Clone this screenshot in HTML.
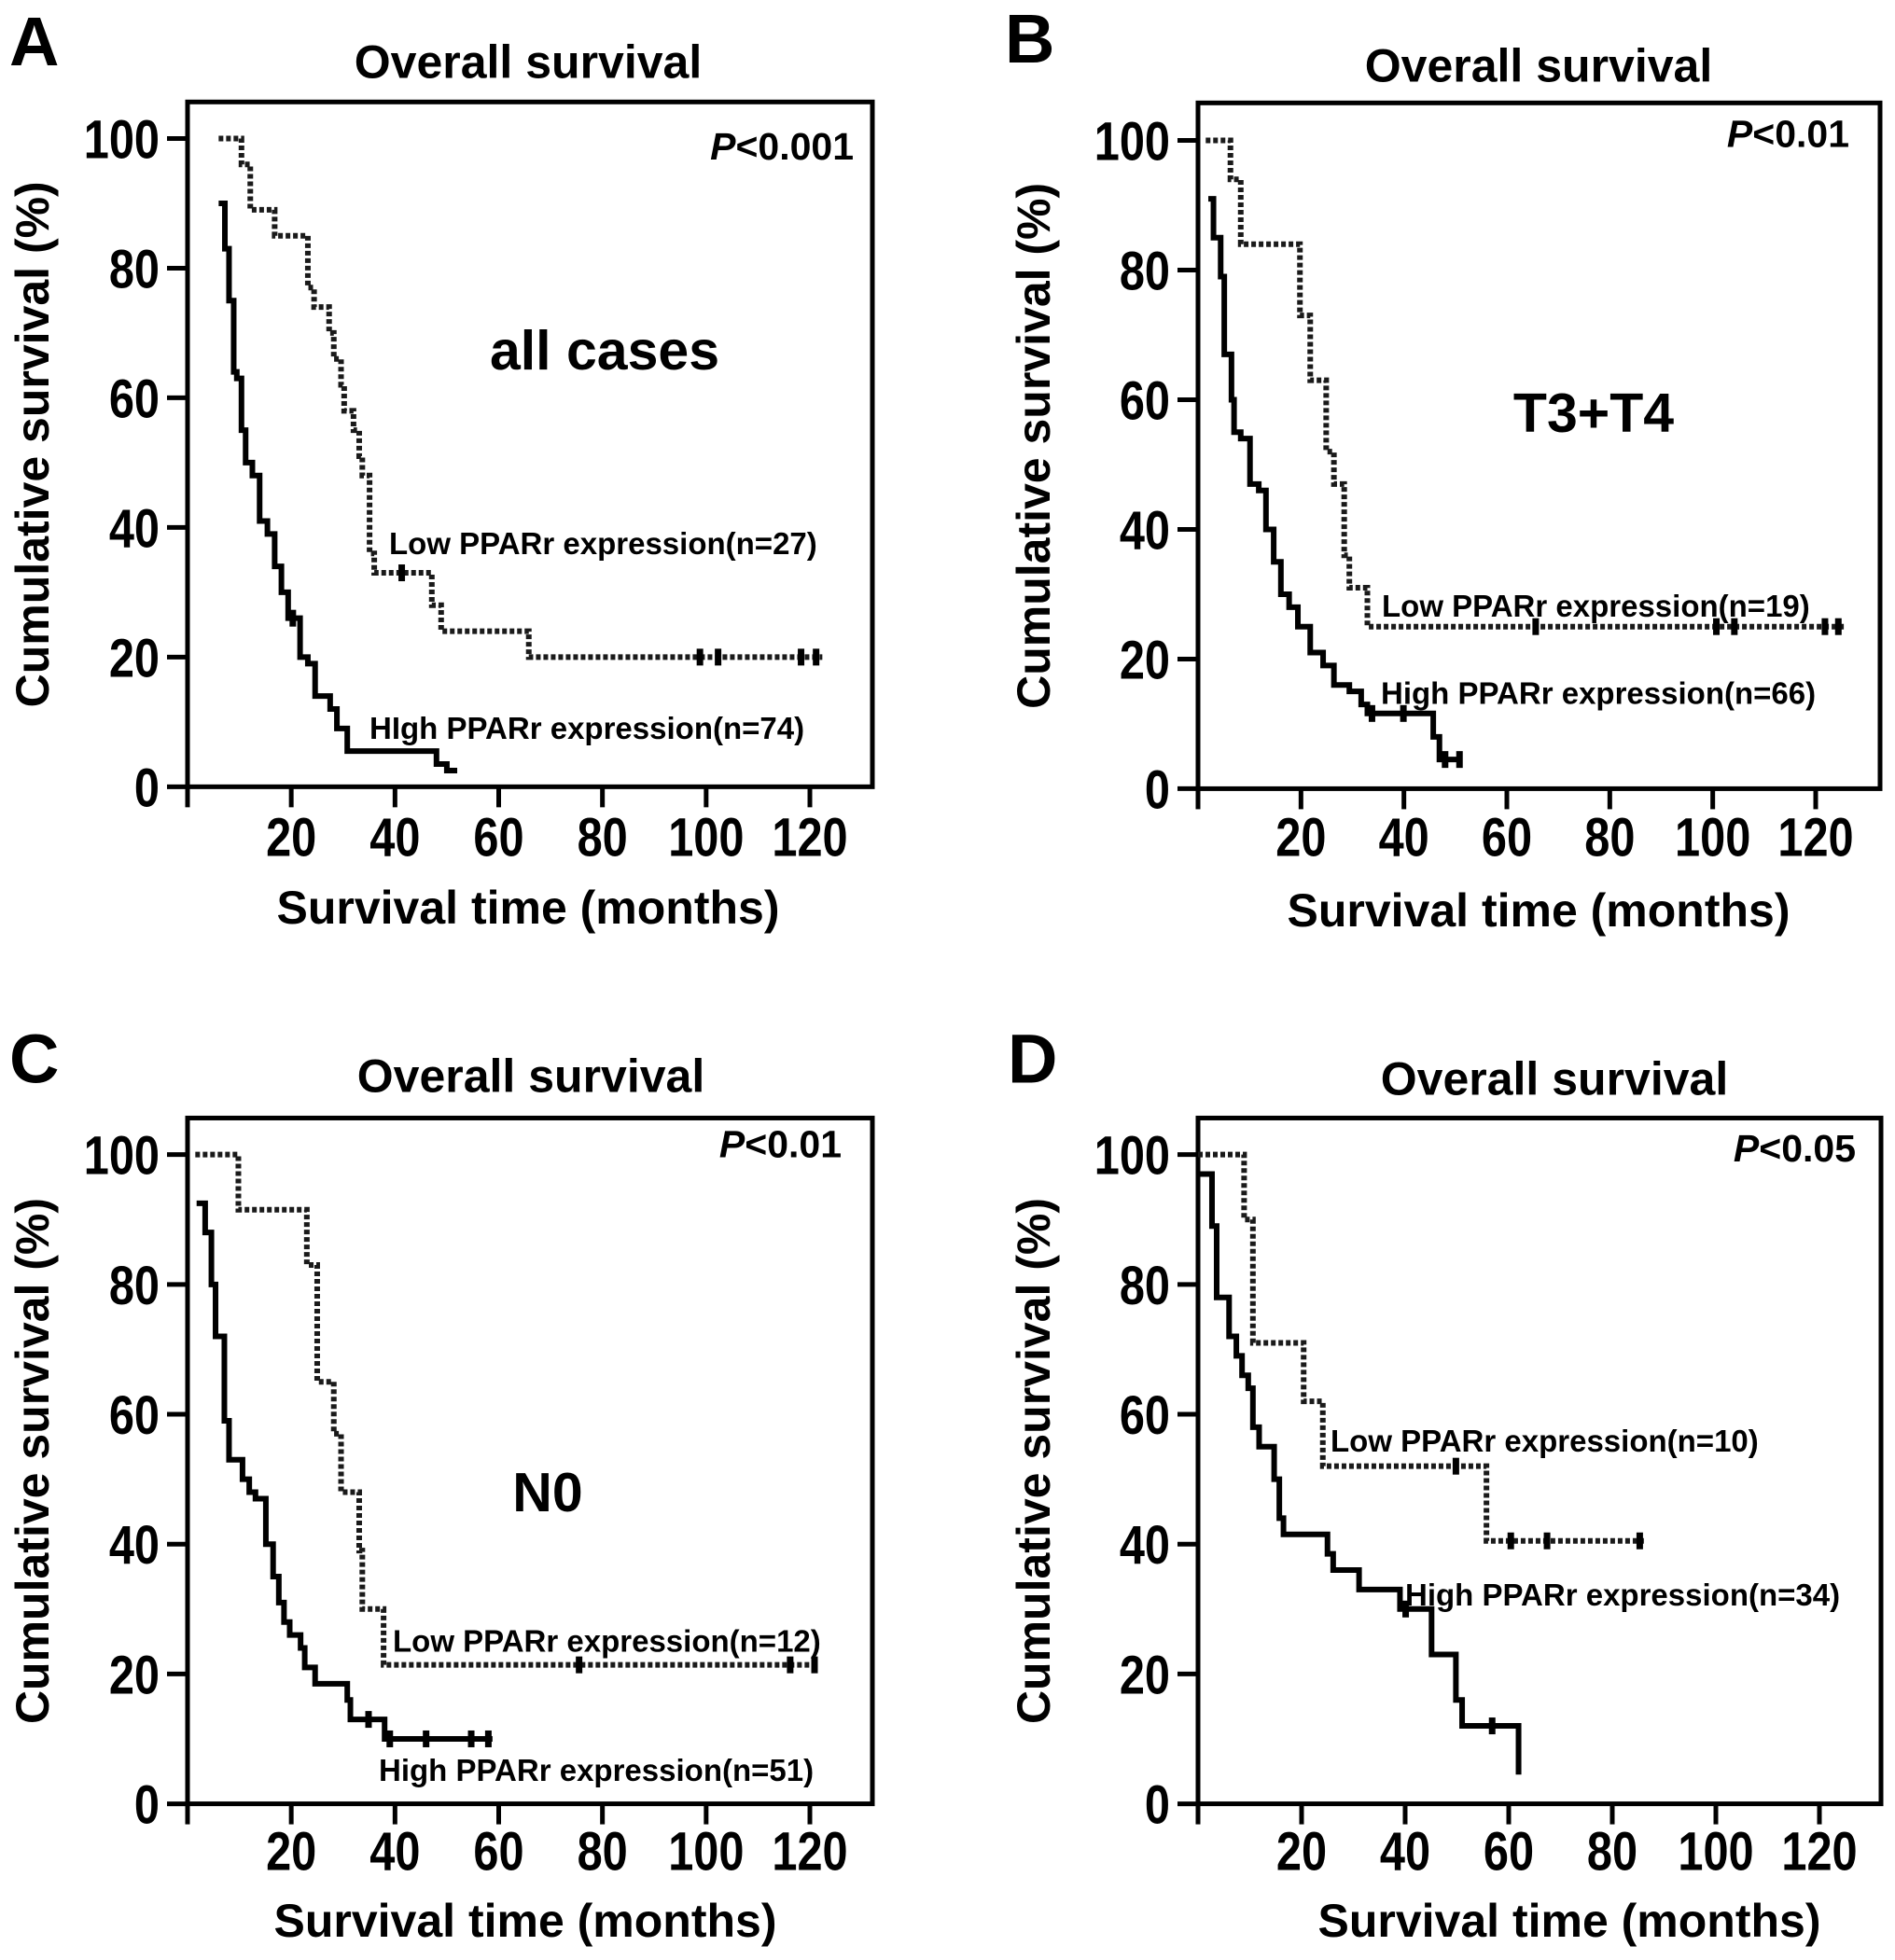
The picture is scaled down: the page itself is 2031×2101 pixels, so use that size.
<!DOCTYPE html>
<html><head><meta charset="utf-8">
<style>
html,body{margin:0;padding:0;background:#fff;}
svg{display:block;font-family:"Liberation Sans",Arial,sans-serif;font-weight:bold;}
</style></head>
<body>
<svg id="fig" width="2031" height="2101" viewBox="0 0 2031 2101" xmlns="http://www.w3.org/2000/svg"></svg>
<script>
// ---- Data (months, % survival) ----
const xTicks = [0,20,40,60,80,100,120];
const xTickLabels = ["","20","40","60","80","100","120"];
const yTicks = [0,20,40,60,80,100];
const yTickLabels = ["0","20","40","60","80","100"];

// Panel A
const aLowT = [6,10.4,12.1,16.8,23.2,24.4,27.3,28.2,29.6,30.2,32,33.1,33.7,35.1,36,47.1,48.9,65.8];
const aLowS = [100,96,89,85,77,74,70,66,62,58,55,51,48,36,33,28,24,20];
const aLowEnd = 122.4;
const aLowCens = [41.3,98.8,102.3,118.3,121.2];
const aHighT = [6,7.2,8,8.9,9.5,10.4,11.2,12.5,13.9,15.4,16.8,18.1,19.4,21.7,23.2,24.6,27.5,28.8,30.8,48,50];
const aHighS = [90,83,75,64,63,55,50,48,41,39,34,30,26,20,19,14,12,9,5.5,3.5,2.5];
const aHighEnd = 52;
const aHighCens = [20.3];

// Panel B
const bLowT = [1.5,6.3,8.3,19.8,21.8,24.9,26.4,28.4,29.4,32.9];
const bLowS = [100,94,84,73,63,52,47,36,31,25];
const bLowEnd = 125.8;
const bLowCens = [65.6,100.7,104.2,121.8,124.4];
const bHighT = [2,3,4.4,5.1,6.5,7,8.3,10.1,11.8,13.2,14.7,16.1,17.7,19.4,21.8,24.3,26.4,29.4,31.7,32.9,45.7,46.9];
const bHighS = [91,85,79,67,60,55,54,47,46,40,35,30,28,25,21,19,16,15,13,11.6,8,4.5];
const bHighEnd = 51;
const bHighCens = [33.8,39.9,48,50.8];

// Panel C
const cLowT = [1.5,9.8,23,25,28.2,29.6,33.1,33.7,37.8];
const cLowS = [100,91.5,83,65,57,48,39,30,21.4];
const cLowEnd = 121.2;
const cLowCens = [75.5,116.2,120.9];
const cHighT = [1.75,3.4,4.6,5.4,7.1,8,10.6,11.9,13.1,15.1,16.5,17.6,18.6,19.7,21.8,22.6,24.6,30.8,31.4,38];
const cHighS = [92.5,88,80,72,59,53,50,48,47,40,35,31,28,26,24,21,18.5,16,13,10];
const cHighEnd = 58.8;
const cHighCens = [34.9,39,46,54.7,58];

// Panel D
const dLowT = [0,8.9,10.6,20.4,24.1,55.7];
const dLowS = [100,90,71,62,52,40.5];
const dLowEnd = 86.1;
const dLowCens = [49.8,60.4,67.4,85.3];
const dHighT = [0,2.7,3.6,6,7.4,8.5,9.7,10.6,11.8,14.7,15.7,16.5,25,26.1,31.1,39,45.1,49.8,51,61.9];
const dHighS = [97,89,78,72,69,66,64,58,55,50,44,41.5,38.5,36,33,30,23,16,12,4.5];
const dHighEnd = 61.9;
const dHighCens = [40.1,56.8];

const NS = "http://www.w3.org/2000/svg";
const svg = document.getElementById('fig');
function mk(tag, attrs, parent){
  const e = document.createElementNS(NS, tag);
  for (const k in attrs) e.setAttribute(k, attrs[k]);
  (parent||svg).appendChild(e);
  return e;
}
function txt(s, attrs, parent){ const e = mk('text', attrs, parent); e.textContent = s; return e; }

function stepPath(T, S, end, xf, yf){
  let d = 'M' + xf(T[0]) + ' ' + yf(S[0]);
  for (let i = 1; i < T.length; i++){
    d += ' H' + xf(T[i]) + ' V' + yf(S[i]);
  }
  d += ' H' + xf(end);
  return d;
}
function survAt(T, S, t){
  let s = S[0];
  for (let i = 0; i < T.length; i++) if (T[i] <= t) s = S[i];
  return s;
}
const DIGIT_W = 58 * 0.556 * 0.84;

function panel(p){
  const Y = v => p.off + (v - p.off) * 1.031;
  ['top','bottom','y100','tickY','xtY','letterY','titleY','pY','grpY','lowLY','highLY'].forEach(k => p[k] = Y(p[k]));
  const g = mk('g', {});
  
  
  const xf = t => p.left + t * (p.x120 - p.left) / 120;
  const yf = v => p.bottom - v * (p.bottom - p.y100) / 100;

  let e = txt(p.letter, {x:p.letterX, y:p.letterY, 'font-size':74}, g);
   
  e = txt('Overall survival', {x:p.titleX, y:p.titleY, 'font-size':50, 'text-anchor':'middle'}, g);
   

  e = mk('rect', {x:p.left, y:p.top, width:p.right-p.left, height:p.bottom-p.top, fill:'none', stroke:'#000', 'stroke-width':5}, g);
   

  yTicks.forEach((v, i) => {
    const t = mk('line', {x1:p.left-22, x2:p.left, y1:yf(v), y2:yf(v), stroke:'#000', 'stroke-width':5}, g);
     
    const l = txt(yTickLabels[i], {x:p.left-30, y:yf(v)+21, 'font-size':58, 'text-anchor':'end',
      textLength: yTickLabels[i].length * DIGIT_W, lengthAdjust:'spacingAndGlyphs'}, g);
     
  });
  xTicks.forEach((v, i) => {
    const t = mk('line', {x1:xf(v), x2:xf(v), y1:p.bottom, y2:p.bottom+22, stroke:'#000', 'stroke-width':5}, g);
     
    if (xTickLabels[i]) {
      const l = txt(xTickLabels[i], {x:xf(v), y:p.tickY, 'font-size':58, 'text-anchor':'middle',
        textLength: xTickLabels[i].length * DIGIT_W, lengthAdjust:'spacingAndGlyphs'}, g);
       
    }
  });
  e = txt('Survival time (months)', {x:p.xtX, y:p.xtY, 'font-size':50, 'text-anchor':'middle'}, g);
   
  const yc = (p.top + p.bottom) / 2;
  e = txt('Cumulative survival (%)', {x:p.ytX, y:yc, 'font-size':50, 'text-anchor':'middle', transform:'rotate(-90 '+p.ytX+' '+yc+')'}, g);
   

  e = mk('path', {d:stepPath(p.lowT, p.lowS, p.lowEnd, xf, yf), fill:'none', stroke:'#1a1a1a', 'stroke-width':6, 'stroke-dasharray':'5 3'}, g);
   
  e = mk('path', {d:stepPath(p.highT, p.highS, p.highEnd, xf, yf), fill:'none', stroke:'#000', 'stroke-width':6}, g);
   
  p.lowCens.forEach(t => {
    const y = yf(survAt(p.lowT, p.lowS, t));
    const c = mk('line', {x1:xf(t), x2:xf(t), y1:y-9, y2:y+9, stroke:'#000', 'stroke-width':7}, g);
     
  });
  p.highCens.forEach(t => {
    const y = yf(survAt(p.highT, p.highS, t));
    const c = mk('line', {x1:xf(t), x2:xf(t), y1:y-9, y2:y+9, stroke:'#000', 'stroke-width':7}, g);
     
  });

  e = txt('P', {x:p.pX, y:p.pY, 'font-size':41, 'text-anchor':'end', 'font-style':'italic'}, g);
  const ps = mk('tspan', {'font-style':'normal'}, e); ps.textContent = p.pText;
   

  if (p.group) {
    e = txt(p.group, {x:p.grpX, y:p.grpY, 'font-size':59, 'text-anchor':'middle'}, g);
     
  }
  e = txt(p.lowLabel, {x:p.lowLX, y:p.lowLY, 'font-size':33}, g);
   
  e = txt(p.highLabel, {x:p.highLX, y:p.highLY, 'font-size':33}, g);
   
}

panel({id:'a', off:0, letter:'A', letterX:10, letterY:68, titleX:566, titleY:81,
  left:201, right:935, top:106, bottom:818, y100:144, x120:868, tickY:890, xtX:566, xtY:960, ytX:52,
  pText:'<0.001', pX:915, pY:166, group:'all cases', grpX:648, grpY:384,
  lowLabel:'Low PPARr expression(n=27)', lowLX:417, lowLY:576,
  highLabel:'HIgh PPARr expression(n=74)', highLX:396, highLY:768,
  lowT:aLowT, lowS:aLowS, lowEnd:aLowEnd, lowCens:aLowCens,
  highT:aHighT, highS:aHighS, highEnd:aHighEnd, highCens:aHighCens});
panel({id:'b', off:0, letter:'B', letterX:1077, letterY:65, titleX:1649, titleY:85,
  left:1284, right:2015, top:107, bottom:820, y100:146, x120:1946, tickY:890, xtX:1649, xtY:963, ytX:1125,
  pText:'<0.01', pX:1982, pY:153, group:'T3+T4', grpX:1708, grpY:449,
  lowLabel:'Low PPARr expression(n=19)', lowLX:1481, lowLY:641,
  highLabel:'High PPARr expression(n=66)', highLX:1480, highLY:732,
  lowT:bLowT, lowS:bLowS, lowEnd:bLowEnd, lowCens:bLowCens,
  highT:bHighT, highS:bHighS, highEnd:bHighEnd, highCens:bHighCens});
panel({id:'c', off:1050, letter:'C', letterX:10, letterY:1157, titleX:569, titleY:1167,
  left:201, right:935, top:1194, bottom:1907, y100:1232, x120:868, tickY:1976, xtX:563, xtY:2045, ytX:52,
  pText:'<0.01', pX:902, pY:1235, group:'N0', grpX:587, grpY:1603,
  lowLabel:'Low PPARr expression(n=12)', lowLX:421, lowLY:1749,
  highLabel:'High PPARr expression(n=51)', highLX:406, highLY:1883,
  lowT:cLowT, lowS:cLowS, lowEnd:cLowEnd, lowCens:cLowCens,
  highT:cHighT, highS:cHighS, highEnd:cHighEnd, highCens:cHighCens});
panel({id:'d', off:1050, letter:'D', letterX:1080, letterY:1157, titleX:1666, titleY:1170,
  left:1284, right:2016, top:1194, bottom:1907, y100:1232, x120:1950, tickY:1976, xtX:1682, xtY:2045, ytX:1125,
  pText:'<0.05', pX:1989, pY:1239, group:'', grpX:0, grpY:0,
  lowLabel:'Low PPARr expression(n=10)', lowLX:1426, lowLY:1541,
  highLabel:'High PPARr expression(n=34)', highLX:1506, highLY:1701,
  lowT:dLowT, lowS:dLowS, lowEnd:dLowEnd, lowCens:dLowCens,
  highT:dHighT, highS:dHighS, highEnd:dHighEnd, highCens:dHighCens});
</script>
</body></html>
